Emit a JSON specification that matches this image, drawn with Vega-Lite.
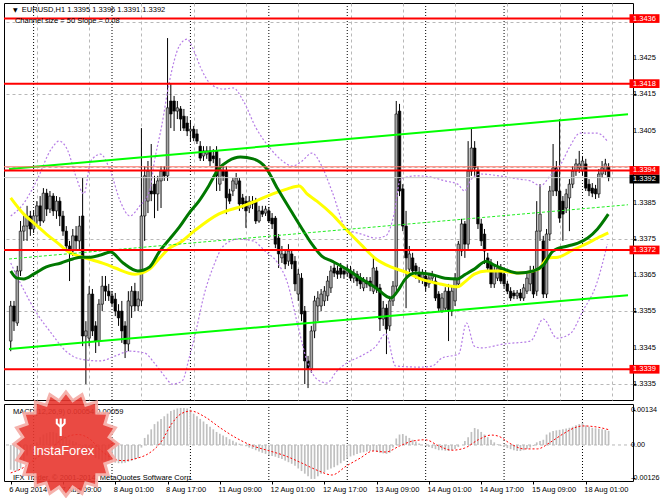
{
"$schema": "https://vega.github.io/schema/vega-lite/v6.json",
"background": "#ffffff",
"padding": {"left": 2, "top": 2, "right": 0, "bottom": 0},
"bounds": "flush",
"spacing": 4,
"config": {
  "view": {"stroke": "#000000", "strokeWidth": 1},
  "axis": {"labelFont": "Liberation Sans", "labelFontSize": 7.5, "labelColor": "#000000", "tickColor": "#000000", "gridColor": "#b8b8b8", "gridDash": [3, 3], "gridWidth": 1},
  "text": {"font": "Liberation Sans"}
},
"datasets": {
  "candles": [
{"i":0,"o":1.33468,"h":1.33579,"l":1.3344,"c":1.33565},
{"i":1,"o":1.33565,"h":1.33579,"l":1.33496,"c":1.33523},
{"i":2,"o":1.33518,"h":1.33676,"l":1.3351,"c":1.33662},
{"i":3,"o":1.33662,"h":1.338,"l":1.33648,"c":1.33772},
{"i":4,"o":1.33772,"h":1.33814,"l":1.33745,"c":1.33786},
{"i":5,"o":1.33786,"h":1.33842,"l":1.33745,"c":1.33814},
{"i":6,"o":1.33814,"h":1.33828,"l":1.33759,"c":1.33778},
{"i":7,"o":1.33778,"h":1.33828,"l":1.33767,"c":1.33814},
{"i":8,"o":1.33814,"h":1.33855,"l":1.33786,"c":1.33842},
{"i":9,"o":1.33842,"h":1.33869,"l":1.33786,"c":1.338},
{"i":10,"o":1.338,"h":1.33891,"l":1.33795,"c":1.33877},
{"i":11,"o":1.33877,"h":1.33889,"l":1.33814,"c":1.33833},
{"i":12,"o":1.33833,"h":1.33883,"l":1.33822,"c":1.33869},
{"i":13,"o":1.33869,"h":1.33877,"l":1.33814,"c":1.33828},
{"i":14,"o":1.33828,"h":1.33869,"l":1.33806,"c":1.33855},
{"i":15,"o":1.33855,"h":1.33866,"l":1.33786,"c":1.33814},
{"i":16,"o":1.33814,"h":1.33828,"l":1.33759,"c":1.33772},
{"i":17,"o":1.33772,"h":1.33786,"l":1.33717,"c":1.33731},
{"i":18,"o":1.33731,"h":1.33745,"l":1.33634,"c":1.33717},
{"i":19,"o":1.33717,"h":1.33778,"l":1.33703,"c":1.33759},
{"i":20,"o":1.33759,"h":1.33786,"l":1.33717,"c":1.33745},
{"i":21,"o":1.33745,"h":1.33814,"l":1.33717,"c":1.33786},
{"i":22,"o":1.33814,"h":1.33919,"l":1.33454,"c":1.33482},
{"i":23,"o":1.33482,"h":1.33523,"l":1.33349,"c":1.33496},
{"i":24,"o":1.33476,"h":1.3362,"l":1.33454,"c":1.33598},
{"i":25,"o":1.33598,"h":1.33612,"l":1.33482,"c":1.33496},
{"i":26,"o":1.3351,"h":1.33523,"l":1.33435,"c":1.33468},
{"i":27,"o":1.33468,"h":1.33584,"l":1.33454,"c":1.3357},
{"i":28,"o":1.3357,"h":1.33648,"l":1.33551,"c":1.3362},
{"i":29,"o":1.3362,"h":1.33648,"l":1.33579,"c":1.33606},
{"i":30,"o":1.33606,"h":1.33626,"l":1.33579,"c":1.33593},
{"i":31,"o":1.33593,"h":1.33606,"l":1.33565,"c":1.33573},
{"i":32,"o":1.33584,"h":1.33601,"l":1.33537,"c":1.33551},
{"i":33,"o":1.33551,"h":1.3357,"l":1.3351,"c":1.33532},
{"i":34,"o":1.33551,"h":1.33579,"l":1.33463,"c":1.33496},
{"i":35,"o":1.3351,"h":1.33523,"l":1.33421,"c":1.3346},
{"i":36,"o":1.3346,"h":1.33606,"l":1.3344,"c":1.33579},
{"i":37,"o":1.33565,"h":1.3362,"l":1.33532,"c":1.33606},
{"i":38,"o":1.33606,"h":1.33629,"l":1.33551,"c":1.33565},
{"i":39,"o":1.33565,"h":1.33606,"l":1.33551,"c":1.33584},
{"i":40,"o":1.33579,"h":1.34057,"l":1.33565,"c":1.33814},
{"i":41,"o":1.33814,"h":1.33952,"l":1.33745,"c":1.33925},
{"i":42,"o":1.33855,"h":1.33966,"l":1.33822,"c":1.33938},
{"i":43,"o":1.33883,"h":1.34013,"l":1.33855,"c":1.33875},
{"i":44,"o":1.33902,"h":1.33925,"l":1.33808,"c":1.33875},
{"i":45,"o":1.33875,"h":1.33925,"l":1.33828,"c":1.33911},
{"i":46,"o":1.33911,"h":1.33952,"l":1.33836,"c":1.33938},
{"i":47,"o":1.33938,"h":1.33952,"l":1.33911,"c":1.33925},
{"i":48,"o":1.33925,"h":1.34306,"l":1.33911,"c":1.34113},
{"i":49,"o":1.34132,"h":1.34179,"l":1.34057,"c":1.34096},
{"i":50,"o":1.34132,"h":1.34146,"l":1.34049,"c":1.34104},
{"i":51,"o":1.34104,"h":1.34132,"l":1.34082,"c":1.34113},
{"i":52,"o":1.3411,"h":1.34118,"l":1.34049,"c":1.34082},
{"i":53,"o":1.3409,"h":1.3411,"l":1.34049,"c":1.34057},
{"i":54,"o":1.34071,"h":1.3409,"l":1.34035,"c":1.34049},
{"i":55,"o":1.34049,"h":1.34077,"l":1.34021,"c":1.34054},
{"i":56,"o":1.34054,"h":1.34063,"l":1.34021,"c":1.3403},
{"i":57,"o":1.34041,"h":1.34054,"l":1.34013,"c":1.34021},
{"i":58,"o":1.34007,"h":1.34021,"l":1.33966,"c":1.33974},
{"i":59,"o":1.3398,"h":1.34007,"l":1.33966,"c":1.33994},
{"i":60,"o":1.33985,"h":1.34007,"l":1.33972,"c":1.33994},
{"i":61,"o":1.33994,"h":1.34007,"l":1.33952,"c":1.33966},
{"i":62,"o":1.3398,"h":1.33999,"l":1.3396,"c":1.33972},
{"i":63,"o":1.33994,"h":1.34007,"l":1.33883,"c":1.33925},
{"i":64,"o":1.33902,"h":1.33974,"l":1.33883,"c":1.33944},
{"i":65,"o":1.33938,"h":1.33952,"l":1.33911,"c":1.33925},
{"i":66,"o":1.33938,"h":1.33952,"l":1.33819,"c":1.33864},
{"i":67,"o":1.33875,"h":1.33889,"l":1.33847,"c":1.33855},
{"i":68,"o":1.33883,"h":1.33919,"l":1.33869,"c":1.33911},
{"i":69,"o":1.33902,"h":1.33933,"l":1.33889,"c":1.33919},
{"i":70,"o":1.33911,"h":1.33919,"l":1.33828,"c":1.33847},
{"i":71,"o":1.33864,"h":1.33875,"l":1.33833,"c":1.33847},
{"i":72,"o":1.33855,"h":1.33869,"l":1.33781,"c":1.33828},
{"i":73,"o":1.33836,"h":1.33869,"l":1.33822,"c":1.33855},
{"i":74,"o":1.33847,"h":1.33869,"l":1.33833,"c":1.33855},
{"i":75,"o":1.33855,"h":1.33864,"l":1.33792,"c":1.338},
{"i":76,"o":1.338,"h":1.33842,"l":1.33795,"c":1.33828},
{"i":77,"o":1.33828,"h":1.33842,"l":1.33811,"c":1.33819},
{"i":78,"o":1.33822,"h":1.33842,"l":1.33814,"c":1.33833},
{"i":79,"o":1.33828,"h":1.33839,"l":1.33795,"c":1.338},
{"i":80,"o":1.33808,"h":1.33822,"l":1.33778,"c":1.33792},
{"i":81,"o":1.33808,"h":1.33814,"l":1.33725,"c":1.33736},
{"i":82,"o":1.33753,"h":1.33764,"l":1.3367,"c":1.33709},
{"i":83,"o":1.33698,"h":1.33731,"l":1.33684,"c":1.33709},
{"i":84,"o":1.33709,"h":1.33717,"l":1.33667,"c":1.33681},
{"i":85,"o":1.33689,"h":1.33736,"l":1.33676,"c":1.33717},
{"i":86,"o":1.33709,"h":1.33717,"l":1.33667,"c":1.33681},
{"i":87,"o":1.33689,"h":1.33703,"l":1.33606,"c":1.33626},
{"i":88,"o":1.33598,"h":1.33667,"l":1.33579,"c":1.33653},
{"i":89,"o":1.33642,"h":1.33656,"l":1.33523,"c":1.33543},
{"i":90,"o":1.33551,"h":1.33565,"l":1.33349,"c":1.33413},
{"i":91,"o":1.33413,"h":1.33427,"l":1.33338,"c":1.33391},
{"i":92,"o":1.33391,"h":1.3351,"l":1.3338,"c":1.33496},
{"i":93,"o":1.33496,"h":1.33593,"l":1.33476,"c":1.33579},
{"i":94,"o":1.33565,"h":1.33606,"l":1.33523,"c":1.33587},
{"i":95,"o":1.33565,"h":1.33612,"l":1.33551,"c":1.33598},
{"i":96,"o":1.33579,"h":1.3362,"l":1.33565,"c":1.33606},
{"i":97,"o":1.33593,"h":1.33648,"l":1.33579,"c":1.33634},
{"i":98,"o":1.33615,"h":1.33676,"l":1.33601,"c":1.33662},
{"i":99,"o":1.3367,"h":1.33684,"l":1.33645,"c":1.33656},
{"i":100,"o":1.33662,"h":1.33676,"l":1.3364,"c":1.33653},
{"i":101,"o":1.3367,"h":1.33684,"l":1.33642,"c":1.33653},
{"i":102,"o":1.33662,"h":1.33673,"l":1.3364,"c":1.33653},
{"i":103,"o":1.33656,"h":1.33678,"l":1.33648,"c":1.33667},
{"i":104,"o":1.33662,"h":1.33676,"l":1.33634,"c":1.33642},
{"i":105,"o":1.33642,"h":1.33667,"l":1.33629,"c":1.33656},
{"i":106,"o":1.33653,"h":1.33662,"l":1.3362,"c":1.33634},
{"i":107,"o":1.33642,"h":1.33656,"l":1.33612,"c":1.33626},
{"i":108,"o":1.33615,"h":1.33645,"l":1.33606,"c":1.33634},
{"i":109,"o":1.33634,"h":1.33645,"l":1.33615,"c":1.33626},
{"i":110,"o":1.33634,"h":1.33645,"l":1.33606,"c":1.3362},
{"i":111,"o":1.33606,"h":1.33698,"l":1.33598,"c":1.3367},
{"i":112,"o":1.33662,"h":1.33673,"l":1.33601,"c":1.33612},
{"i":113,"o":1.33615,"h":1.33626,"l":1.33496,"c":1.33529},
{"i":114,"o":1.33529,"h":1.33579,"l":1.3351,"c":1.33559},
{"i":115,"o":1.33559,"h":1.3357,"l":1.33432,"c":1.33501},
{"i":116,"o":1.3351,"h":1.33593,"l":1.33496,"c":1.33579},
{"i":117,"o":1.33579,"h":1.33634,"l":1.33565,"c":1.3362},
{"i":118,"o":1.3362,"h":1.34132,"l":1.33606,"c":1.34096},
{"i":119,"o":1.34104,"h":1.34124,"l":1.33869,"c":1.33883},
{"i":120,"o":1.33889,"h":1.33902,"l":1.33772,"c":1.33786},
{"i":121,"o":1.33786,"h":1.33828,"l":1.33559,"c":1.33698},
{"i":122,"o":1.33667,"h":1.33731,"l":1.33656,"c":1.33709},
{"i":123,"o":1.33698,"h":1.33712,"l":1.33648,"c":1.33662},
{"i":124,"o":1.33676,"h":1.33684,"l":1.3364,"c":1.33662},
{"i":125,"o":1.33656,"h":1.33673,"l":1.33629,"c":1.33642},
{"i":126,"o":1.33642,"h":1.33667,"l":1.33626,"c":1.33656},
{"i":127,"o":1.33648,"h":1.33662,"l":1.33606,"c":1.3362},
{"i":128,"o":1.33626,"h":1.33656,"l":1.33615,"c":1.33642},
{"i":129,"o":1.33642,"h":1.33662,"l":1.33634,"c":1.33651},
{"i":130,"o":1.33634,"h":1.33645,"l":1.33579,"c":1.33587},
{"i":131,"o":1.33598,"h":1.33606,"l":1.33551,"c":1.33559},
{"i":132,"o":1.33551,"h":1.33601,"l":1.33546,"c":1.33587},
{"i":133,"o":1.33559,"h":1.33617,"l":1.33551,"c":1.33606},
{"i":134,"o":1.33606,"h":1.33626,"l":1.33468,"c":1.33551},
{"i":135,"o":1.33551,"h":1.3362,"l":1.33537,"c":1.33606},
{"i":136,"o":1.33579,"h":1.33656,"l":1.33565,"c":1.33642},
{"i":137,"o":1.33626,"h":1.33745,"l":1.33615,"c":1.33736},
{"i":138,"o":1.33717,"h":1.33806,"l":1.33703,"c":1.33792},
{"i":139,"o":1.33792,"h":1.338,"l":1.33698,"c":1.33736},
{"i":140,"o":1.33736,"h":1.34021,"l":1.33723,"c":1.33938},
{"i":141,"o":1.33938,"h":1.34057,"l":1.33925,"c":1.34002},
{"i":142,"o":1.34002,"h":1.34021,"l":1.33925,"c":1.33947},
{"i":143,"o":1.33938,"h":1.33952,"l":1.33778,"c":1.33792},
{"i":144,"o":1.33792,"h":1.33806,"l":1.33731,"c":1.33745},
{"i":145,"o":1.33764,"h":1.33778,"l":1.33681,"c":1.33717},
{"i":146,"o":1.33698,"h":1.33712,"l":1.33662,"c":1.3367},
{"i":147,"o":1.33681,"h":1.33695,"l":1.33615,"c":1.33626},
{"i":148,"o":1.33626,"h":1.33676,"l":1.33615,"c":1.33662},
{"i":149,"o":1.33642,"h":1.33689,"l":1.33634,"c":1.3367},
{"i":150,"o":1.3367,"h":1.33681,"l":1.33626,"c":1.33634},
{"i":151,"o":1.33653,"h":1.33662,"l":1.33615,"c":1.33626},
{"i":152,"o":1.33626,"h":1.33634,"l":1.33598,"c":1.33606},
{"i":153,"o":1.33606,"h":1.33617,"l":1.33579,"c":1.33587},
{"i":154,"o":1.33601,"h":1.33609,"l":1.33584,"c":1.33593},
{"i":155,"o":1.33593,"h":1.33609,"l":1.33584,"c":1.33601},
{"i":156,"o":1.33601,"h":1.33612,"l":1.33579,"c":1.33587},
{"i":157,"o":1.33587,"h":1.33626,"l":1.33579,"c":1.33615},
{"i":158,"o":1.33606,"h":1.33656,"l":1.33598,"c":1.33642},
{"i":159,"o":1.33626,"h":1.33676,"l":1.33606,"c":1.33662},
{"i":160,"o":1.33662,"h":1.33676,"l":1.33587,"c":1.33598},
{"i":161,"o":1.33606,"h":1.33855,"l":1.33593,"c":1.33772},
{"i":162,"o":1.33772,"h":1.33902,"l":1.33745,"c":1.33819},
{"i":163,"o":1.33745,"h":1.33759,"l":1.33587,"c":1.33598},
{"i":164,"o":1.33598,"h":1.33778,"l":1.33587,"c":1.33764},
{"i":165,"o":1.33764,"h":1.33897,"l":1.33745,"c":1.33883},
{"i":166,"o":1.33883,"h":1.34013,"l":1.33869,"c":1.33947},
{"i":167,"o":1.33947,"h":1.33966,"l":1.33869,"c":1.33883},
{"i":168,"o":1.33883,"h":1.34082,"l":1.33795,"c":1.33808},
{"i":169,"o":1.33855,"h":1.33869,"l":1.33745,"c":1.33819},
{"i":170,"o":1.33836,"h":1.33889,"l":1.33822,"c":1.33875},
{"i":171,"o":1.33864,"h":1.33916,"l":1.33772,"c":1.33902},
{"i":172,"o":1.33902,"h":1.33952,"l":1.33891,"c":1.33938},
{"i":173,"o":1.33938,"h":1.33972,"l":1.33925,"c":1.33958},
{"i":174,"o":1.33947,"h":1.33994,"l":1.33933,"c":1.33958},
{"i":175,"o":1.33938,"h":1.3398,"l":1.33925,"c":1.33966},
{"i":176,"o":1.33958,"h":1.33972,"l":1.33883,"c":1.33891},
{"i":177,"o":1.33902,"h":1.33916,"l":1.33869,"c":1.33883},
{"i":178,"o":1.33891,"h":1.33905,"l":1.33866,"c":1.33877},
{"i":179,"o":1.33889,"h":1.339,"l":1.33861,"c":1.33875},
{"i":180,"o":1.33875,"h":1.33944,"l":1.33864,"c":1.3393},
{"i":181,"o":1.3393,"h":1.33966,"l":1.33919,"c":1.33947},
{"i":182,"o":1.33938,"h":1.33972,"l":1.33927,"c":1.33958},
{"i":183,"o":1.3395,"h":1.3396,"l":1.3391,"c":1.3392}
  ],
  "ind": [
{"s":"maG","i":0,"v":1.33662},{"s":"maG","i":1.88,"v":1.33642},{"s":"maG","i":3.99,"v":1.3364},{"s":"maG","i":7.0,"v":1.33653},{"s":"maG","i":10.9,"v":1.33673},{"s":"maG","i":15.4,"v":1.33684},{"s":"maG","i":19.0,"v":1.33695},{"s":"maG","i":21.5,"v":1.337},{"s":"maG","i":24.5,"v":1.337},{"s":"maG","i":27.5,"v":1.33706},{"s":"maG","i":30.5,"v":1.33714},{"s":"maG","i":34.4,"v":1.33684},{"s":"maG","i":38.9,"v":1.33662},{"s":"maG","i":42.5,"v":1.33673},{"s":"maG","i":45.6,"v":1.33717},{"s":"maG","i":48.6,"v":1.3375},{"s":"maG","i":51.6,"v":1.33783},{"s":"maG","i":54.6,"v":1.33822},{"s":"maG","i":57.6,"v":1.33855},{"s":"maG","i":60.6,"v":1.33897},{"s":"maG","i":63.6,"v":1.33944},{"s":"maG","i":66.6,"v":1.33966},{"s":"maG","i":70.3,"v":1.33977},{"s":"maG","i":74.2,"v":1.33972},{"s":"maG","i":78.1,"v":1.33947},{"s":"maG","i":81.7,"v":1.33889},{"s":"maG","i":86.2,"v":1.33822},{"s":"maG","i":89.2,"v":1.33778},{"s":"maG","i":92.2,"v":1.33736},{"s":"maG","i":95.2,"v":1.33703},{"s":"maG","i":98.3,"v":1.33689},{"s":"maG","i":102.8,"v":1.33667},{"s":"maG","i":107.3,"v":1.3364},{"s":"maG","i":111.8,"v":1.33615},{"s":"maG","i":116.3,"v":1.33587},{"s":"maG","i":118.4,"v":1.33606},{"s":"maG","i":120.8,"v":1.3364},{"s":"maG","i":123.9,"v":1.33656},{"s":"maG","i":128.4,"v":1.33653},{"s":"maG","i":132.9,"v":1.33642},{"s":"maG","i":136.8,"v":1.3364},{"s":"maG","i":138.9,"v":1.33651},{"s":"maG","i":141.9,"v":1.33667},{"s":"maG","i":145.6,"v":1.33689},{"s":"maG","i":148.0,"v":1.33678},{"s":"maG","i":151.0,"v":1.33667},{"s":"maG","i":155.5,"v":1.33656},{"s":"maG","i":160.0,"v":1.33662},{"s":"maG","i":163.0,"v":1.33678},{"s":"maG","i":166.0,"v":1.33717},{"s":"maG","i":170.5,"v":1.33731},{"s":"maG","i":173.6,"v":1.33739},{"s":"maG","i":176.6,"v":1.33753},{"s":"maG","i":179.6,"v":1.33778},{"s":"maG","i":182.9,"v":1.33819},
{"s":"maY","i":0,"v":1.33864},{"s":"maY","i":3.99,"v":1.33819},{"s":"maY","i":7.0,"v":1.33795},{"s":"maY","i":10.9,"v":1.33764},{"s":"maY","i":14.8,"v":1.33736},{"s":"maY","i":17.8,"v":1.33714},{"s":"maY","i":20.9,"v":1.33703},{"s":"maY","i":23.9,"v":1.33695},{"s":"maY","i":29.0,"v":1.33681},{"s":"maY","i":32.0,"v":1.3367},{"s":"maY","i":38.0,"v":1.33653},{"s":"maY","i":42.5,"v":1.33667},{"s":"maY","i":45.6,"v":1.33698},{"s":"maY","i":48.6,"v":1.33725},{"s":"maY","i":51.6,"v":1.33739},{"s":"maY","i":56.1,"v":1.33772},{"s":"maY","i":63.6,"v":1.33819},{"s":"maY","i":71.2,"v":1.33842},{"s":"maY","i":75.7,"v":1.33858},{"s":"maY","i":80.2,"v":1.33875},{"s":"maY","i":84.7,"v":1.33889},{"s":"maY","i":88.3,"v":1.33897},{"s":"maY","i":90.7,"v":1.33875},{"s":"maY","i":93.7,"v":1.33855},{"s":"maY","i":98.3,"v":1.33819},{"s":"maY","i":102.8,"v":1.33775},{"s":"maY","i":107.3,"v":1.33734},{"s":"maY","i":111.8,"v":1.33695},{"s":"maY","i":116.3,"v":1.33673},{"s":"maY","i":120.8,"v":1.33659},{"s":"maY","i":125.4,"v":1.3364},{"s":"maY","i":131.4,"v":1.33626},{"s":"maY","i":136.8,"v":1.33618},{"s":"maY","i":138.9,"v":1.33631},{"s":"maY","i":141.9,"v":1.33653},{"s":"maY","i":145.6,"v":1.33662},{"s":"maY","i":149.5,"v":1.33662},{"s":"maY","i":155.5,"v":1.33656},{"s":"maY","i":161.5,"v":1.33667},{"s":"maY","i":164.5,"v":1.33698},{"s":"maY","i":167.5,"v":1.337},{"s":"maY","i":172.1,"v":1.3372},{"s":"maY","i":176.6,"v":1.33739},{"s":"maY","i":179.6,"v":1.33753},{"s":"maY","i":182.9,"v":1.33767},
{"s":"bbu","i":0,"v":1.33814},{"s":"bbu","i":3.4,"v":1.33842},{"s":"bbu","i":7.9,"v":1.33911},{"s":"bbu","i":12.4,"v":1.33999},{"s":"bbu","i":14.8,"v":1.34021},{"s":"bbu","i":17.5,"v":1.33994},{"s":"bbu","i":19.9,"v":1.33925},{"s":"bbu","i":22.4,"v":1.33875},{"s":"bbu","i":24.5,"v":1.33966},{"s":"bbu","i":27.5,"v":1.33985},{"s":"bbu","i":30.5,"v":1.33938},{"s":"bbu","i":33.5,"v":1.33855},{"s":"bbu","i":36.5,"v":1.33814},{"s":"bbu","i":39.5,"v":1.33842},{"s":"bbu","i":42.5,"v":1.33883},{"s":"bbu","i":44.0,"v":1.33966},{"s":"bbu","i":46.2,"v":1.34063},{"s":"bbu","i":48.6,"v":1.34187},{"s":"bbu","i":51.6,"v":1.34284},{"s":"bbu","i":54.0,"v":1.34303},{"s":"bbu","i":56.1,"v":1.3427},{"s":"bbu","i":58.2,"v":1.34223},{"s":"bbu","i":61.2,"v":1.34179},{"s":"bbu","i":65.1,"v":1.34165},{"s":"bbu","i":68.1,"v":1.34168},{"s":"bbu","i":71.2,"v":1.34132},{"s":"bbu","i":75.1,"v":1.34057},{"s":"bbu","i":79.3,"v":1.34002},{"s":"bbu","i":83.2,"v":1.33966},{"s":"bbu","i":86.2,"v":1.33952},{"s":"bbu","i":89.2,"v":1.33966},{"s":"bbu","i":92.2,"v":1.33988},{"s":"bbu","i":95.2,"v":1.33952},{"s":"bbu","i":98.3,"v":1.33883},{"s":"bbu","i":102.8,"v":1.33778},{"s":"bbu","i":107.3,"v":1.33764},{"s":"bbu","i":111.8,"v":1.33753},{"s":"bbu","i":114.8,"v":1.33759},{"s":"bbu","i":117.2,"v":1.33814},{"s":"bbu","i":119.3,"v":1.33916},{"s":"bbu","i":123.9,"v":1.33925},{"s":"bbu","i":128.4,"v":1.33922},{"s":"bbu","i":132.9,"v":1.33911},{"s":"bbu","i":136.8,"v":1.33902},{"s":"bbu","i":138.9,"v":1.33883},{"s":"bbu","i":141.0,"v":1.33916},{"s":"bbu","i":144.0,"v":1.3393},{"s":"bbu","i":149.5,"v":1.33925},{"s":"bbu","i":155.5,"v":1.33916},{"s":"bbu","i":159.1,"v":1.33911},{"s":"bbu","i":162.1,"v":1.33897},{"s":"bbu","i":165.1,"v":1.33925},{"s":"bbu","i":168.4,"v":1.33958},{"s":"bbu","i":171.2,"v":1.34007},{"s":"bbu","i":174.2,"v":1.34043},{"s":"bbu","i":179.6,"v":1.34043},{"s":"bbu","i":182.6,"v":1.34021},
{"s":"bbl","i":0,"v":1.33684},{"s":"bbl","i":3.4,"v":1.3362},{"s":"bbl","i":7.9,"v":1.33546},{"s":"bbl","i":12.4,"v":1.3349},{"s":"bbl","i":16.9,"v":1.3344},{"s":"bbl","i":21.5,"v":1.33418},{"s":"bbl","i":27.5,"v":1.33413},{"s":"bbl","i":32.0,"v":1.33427},{"s":"bbl","i":36.5,"v":1.3344},{"s":"bbl","i":41.0,"v":1.33435},{"s":"bbl","i":44.0,"v":1.33407},{"s":"bbl","i":47.1,"v":1.33371},{"s":"bbl","i":49.5,"v":1.33349},{"s":"bbl","i":52.5,"v":1.33358},{"s":"bbl","i":54.6,"v":1.33421},{"s":"bbl","i":56.7,"v":1.33496},{"s":"bbl","i":59.1,"v":1.33593},{"s":"bbl","i":62.1,"v":1.33676},{"s":"bbl","i":65.1,"v":1.33731},{"s":"bbl","i":69.6,"v":1.3375},{"s":"bbl","i":74.2,"v":1.33745},{"s":"bbl","i":77.8,"v":1.33717},{"s":"bbl","i":81.7,"v":1.33684},{"s":"bbl","i":84.7,"v":1.33629},{"s":"bbl","i":87.7,"v":1.33518},{"s":"bbl","i":90.7,"v":1.33413},{"s":"bbl","i":93.7,"v":1.33363},{"s":"bbl","i":96.8,"v":1.33352},{"s":"bbl","i":99.8,"v":1.33385},{"s":"bbl","i":102.8,"v":1.33407},{"s":"bbl","i":107.3,"v":1.33427},{"s":"bbl","i":111.8,"v":1.33454},{"s":"bbl","i":114.8,"v":1.33488},{"s":"bbl","i":117.8,"v":1.33399},{"s":"bbl","i":125.4,"v":1.33396},{"s":"bbl","i":129.0,"v":1.33399},{"s":"bbl","i":132.0,"v":1.33421},{"s":"bbl","i":137.1,"v":1.33432},{"s":"bbl","i":139.5,"v":1.33518},{"s":"bbl","i":141.9,"v":1.33454},{"s":"bbl","i":144.0,"v":1.33449},{"s":"bbl","i":151.0,"v":1.3346},{"s":"bbl","i":159.1,"v":1.33468},{"s":"bbl","i":163.0,"v":1.33529},{"s":"bbl","i":167.2,"v":1.33476},{"s":"bbl","i":171.2,"v":1.33488},{"s":"bbl","i":175.1,"v":1.33551},{"s":"bbl","i":179.3,"v":1.33626},{"s":"bbl","i":182.6,"v":1.33736}
  ],
  "chan": [
{"s":"up","i":-0.53,"v":1.33944},{"s":"up","i":188.93,"v":1.34095},
{"s":"lo","i":-0.53,"v":1.33446},{"s":"lo","i":188.93,"v":1.33595},
{"s":"mid","i":-0.53,"v":1.33695},{"s":"mid","i":188.93,"v":1.33845}
  ],
  "lev": [{"p":1.3436},{"p":1.3418},{"p":1.3394},{"p":1.3372},{"p":1.3339}],
  "quote": [{"bid":1.3392,"ask":1.3395}],
  "ylab": [{"v":1.3335},{"v":1.3345},{"v":1.3355},{"v":1.3365},{"v":1.3375},{"v":1.3385},{"v":1.3405},{"v":1.3415},{"v":1.3425}],
  "mlab": [{"v":0.00134,"t":"0.00134"},{"v":0,"t":"0.00"},{"v":-0.00126,"t":"-0.00126"}],
  "sep": [{"i":7},{"i":31},{"i":55},{"i":79},{"i":103},{"i":127},{"i":151},{"i":175}],
  "macd": [
{"i":0,"m":-0.00095},{"i":1,"m":-0.00098},{"i":2,"m":-0.001},{"i":3,"m":-0.0009},{"i":4,"m":-0.0006},{"i":5,"m":-0.0004},{"i":6,"m":-0.0002},{"i":7,"m":0.0},{"i":8,"m":0.0001},{"i":9,"m":0.0003},
{"i":10,"m":0.0004},{"i":11,"m":0.00045},{"i":12,"m":0.0005},{"i":13,"m":0.0005},{"i":14,"m":0.00045},{"i":15,"m":0.0004},{"i":16,"m":0.00035},{"i":17,"m":0.0003},{"i":18,"m":0.0002},{"i":19,"m":0.00015},
{"i":20,"m":0.0001},{"i":21,"m":0.0},{"i":22,"m":-0.0001},{"i":23,"m":-0.0002},{"i":24,"m":-0.0003},{"i":25,"m":-0.0004},{"i":26,"m":-0.0005},{"i":27,"m":-0.00055},{"i":28,"m":-0.0006},{"i":29,"m":-0.0006},
{"i":30,"m":-0.00062},{"i":31,"m":-0.00065},{"i":32,"m":-0.00068},{"i":33,"m":-0.0007},{"i":34,"m":-0.0007},{"i":35,"m":-0.00068},{"i":36,"m":-0.00064},{"i":37,"m":-0.0006},{"i":38,"m":-0.00055},{"i":39,"m":-0.0005},
{"i":40,"m":-0.0001},{"i":41,"m":0.00027},{"i":42,"m":0.0004},{"i":43,"m":0.0006},{"i":44,"m":0.0008},{"i":45,"m":0.0009},{"i":46,"m":0.001},{"i":47,"m":0.0011},{"i":48,"m":0.0012},{"i":49,"m":0.0013},
{"i":50,"m":0.00135},{"i":51,"m":0.0014},{"i":52,"m":0.00142},{"i":53,"m":0.00142},{"i":54,"m":0.0014},{"i":55,"m":0.00135},{"i":56,"m":0.0012},{"i":57,"m":0.0011},{"i":58,"m":0.001},{"i":59,"m":0.0009},
{"i":60,"m":0.0008},{"i":61,"m":0.0007},{"i":62,"m":0.0006},{"i":63,"m":0.0005},{"i":64,"m":0.00043},{"i":65,"m":0.00036},{"i":66,"m":0.0003},{"i":67,"m":0.00022},{"i":68,"m":0.00016},{"i":69,"m":0.0001},
{"i":70,"m":0.00005},{"i":71,"m":0.0},{"i":72,"m":-0.00005},{"i":73,"m":-0.0001},{"i":74,"m":-0.00015},{"i":75,"m":-0.0002},{"i":76,"m":-0.00025},{"i":77,"m":-0.0003},{"i":78,"m":-0.00034},{"i":79,"m":-0.00038},
{"i":80,"m":-0.00042},{"i":81,"m":-0.00045},{"i":82,"m":-0.0005},{"i":83,"m":-0.00054},{"i":84,"m":-0.0006},{"i":85,"m":-0.00066},{"i":86,"m":-0.00072},{"i":87,"m":-0.0008},{"i":88,"m":-0.0009},{"i":89,"m":-0.001},
{"i":90,"m":-0.0011},{"i":91,"m":-0.0012},{"i":92,"m":-0.0013},{"i":93,"m":-0.0013},{"i":94,"m":-0.0012},{"i":95,"m":-0.0011},{"i":96,"m":-0.00105},{"i":97,"m":-0.00095},{"i":98,"m":-0.0009},{"i":99,"m":-0.00085},
{"i":100,"m":-0.00078},{"i":101,"m":-0.0007},{"i":102,"m":-0.0006},{"i":103,"m":-0.00052},{"i":104,"m":-0.00044},{"i":105,"m":-0.0004},{"i":106,"m":-0.00035},{"i":107,"m":-0.0003},{"i":108,"m":-0.00028},{"i":109,"m":-0.00025},
{"i":110,"m":-0.00023},{"i":111,"m":-0.00023},{"i":112,"m":-0.00026},{"i":113,"m":-0.0003},{"i":114,"m":-0.00032},{"i":115,"m":-0.00034},{"i":116,"m":-0.0003},{"i":117,"m":-0.0001},{"i":118,"m":0.00025},{"i":119,"m":0.0004},
{"i":120,"m":0.00042},{"i":121,"m":0.00035},{"i":122,"m":0.00027},{"i":123,"m":0.0002},{"i":124,"m":0.00013},{"i":125,"m":0.00006},{"i":126,"m":0.0},{"i":127,"m":-0.00004},{"i":128,"m":-0.00008},{"i":129,"m":-0.00012},
{"i":130,"m":-0.00016},{"i":131,"m":-0.0002},{"i":132,"m":-0.0002},{"i":133,"m":-0.00022},{"i":134,"m":-0.00023},{"i":135,"m":-0.0002},{"i":136,"m":-0.00015},{"i":137,"m":-0.00008},{"i":138,"m":0.0},{"i":139,"m":0.00015},
{"i":140,"m":0.0003},{"i":141,"m":0.0005},{"i":142,"m":0.00065},{"i":143,"m":0.0006},{"i":144,"m":0.0005},{"i":145,"m":0.0004},{"i":146,"m":0.0003},{"i":147,"m":0.0002},{"i":148,"m":0.0001},{"i":149,"m":0.00003},
{"i":150,"m":-0.00003},{"i":151,"m":-0.00008},{"i":152,"m":-0.00012},{"i":153,"m":-0.00016},{"i":154,"m":-0.0002},{"i":155,"m":-0.00023},{"i":156,"m":-0.00023},{"i":157,"m":-0.0002},{"i":158,"m":-0.00015},{"i":159,"m":-0.0001},
{"i":160,"m":-0.00004},{"i":161,"m":0.0001},{"i":162,"m":0.00015},{"i":163,"m":0.0002},{"i":164,"m":0.0004},{"i":165,"m":0.00048},{"i":166,"m":0.00054},{"i":167,"m":0.00056},{"i":168,"m":0.00058},{"i":169,"m":0.0006},
{"i":170,"m":0.00063},{"i":171,"m":0.00066},{"i":172,"m":0.0007},{"i":173,"m":0.00076},{"i":174,"m":0.0008},{"i":175,"m":0.00085},{"i":176,"m":0.00075},{"i":177,"m":0.0007},{"i":178,"m":0.00066},{"i":179,"m":0.00064},
{"i":180,"m":0.00062},{"i":181,"m":0.0006},{"i":182,"m":0.00058},{"i":183,"m":0.00054}
  ],
  "sig": [
{"i":0,"s":-0.00107},{"i":3.4,"s":-0.0009},{"i":7.9,"s":-0.0005},{"i":12.4,"s":-0.0001},{"i":16.9,"s":0.0003},{"i":20.6,"s":0.0004},{"i":24.5,"s":0.0002},{"i":27.5,"s":-0.0002},{"i":31.1,"s":-0.0005},{"i":34.1,"s":-0.0006},{"i":38.9,"s":-0.0005},{"i":41.9,"s":-0.00035},{"i":46.2,"s":0.00015},{"i":49.2,"s":0.0008},{"i":52.2,"s":0.0012},{"i":55.2,"s":0.0013},{"i":59.1,"s":0.0011},{"i":64.2,"s":0.00065},{"i":69.0,"s":0.00027},{"i":74.2,"s":-0.00004},{"i":79.3,"s":-0.00023},{"i":84.1,"s":-0.00042},{"i":89.2,"s":-0.0007},{"i":94.4,"s":-0.001},{"i":98.3,"s":-0.00115},{"i":102.8,"s":-0.0008},{"i":107.0,"s":-0.0005},{"i":110.9,"s":-0.00023},{"i":114.8,"s":-0.00027},{"i":119.0,"s":-0.00004},{"i":123.0,"s":0.00015},{"i":126.9,"s":0.0002},{"i":131.1,"s":-0.00004},{"i":135.0,"s":-0.0002},{"i":138.9,"s":-0.00012},{"i":143.1,"s":0.0002},{"i":147.1,"s":0.00038},{"i":149.2,"s":0.00034},{"i":153.1,"s":0.00004},{"i":157.0,"s":-0.00015},{"i":161.2,"s":-0.00015},{"i":165.1,"s":0.0001},{"i":169.0,"s":0.00042},{"i":173.3,"s":0.00069},{"i":175.1,"s":0.00073},{"i":179.3,"s":0.00069},{"i":182.9,"s":0.00059}
  ]
},
"vconcat": [
  {
    "width": 629,
    "height": 397,
    "layer": [
      {
        "data": {"name": "sep"},
        "mark": {"type": "rule", "color": "#000000", "strokeWidth": 1, "strokeDash": [1, 2]},
        "encoding": {
          "x": {"field": "i", "type": "quantitative", "scale": {"domain": [-0.53, 188.93], "nice": false, "zero": false},
                "axis": {"values": [8, 24, 40, 56, 72, 88, 104, 120, 136, 152, 168, 184], "grid": true, "labels": false, "ticks": false, "domain": false, "title": null}}
        }
      },
      {
        "data": {"name": "candles"},
        "mark": {"type": "rule", "color": "#000000", "strokeWidth": 1},
        "encoding": {
          "x": {"field": "i", "type": "quantitative", "scale": {"domain": [-0.53, 188.93], "nice": false, "zero": false}},
          "y": {"field": "l", "type": "quantitative", "scale": {"domain": [1.33305, 1.34403], "nice": false, "zero": false},
                "axis": {"orient": "right", "values": [1.3335, 1.3345, 1.3355, 1.3365, 1.3375, 1.3385, 1.3395, 1.3405, 1.3415, 1.3425, 1.3435],
                         "labels": false, "grid": true, "tickSize": 3, "title": null, "domain": false}},
          "y2": {"field": "h"}
        }
      },
      {
        "data": {"name": "candles"},
        "mark": {"type": "bar", "orient": "vertical", "size": 2.6, "stroke": "#000000", "strokeWidth": 0.6},
        "encoding": {
          "x": {"field": "i", "type": "quantitative", "scale": {"domain": [-0.53, 188.93], "nice": false, "zero": false}},
          "y": {"field": "o", "type": "quantitative", "scale": {"domain": [1.33305, 1.34403], "nice": false, "zero": false}},
          "y2": {"field": "c"},
          "fill": {"condition": {"test": "datum.c >= datum.o", "value": "#a4a4a4"}, "value": "#000000"}
        }
      },
      {
        "data": {"name": "ind"},
        "transform": [{"filter": "datum.s == 'bbu' || datum.s == 'bbl'"}],
        "mark": {"type": "line", "color": "#b67de6", "strokeWidth": 1.2, "strokeDash": [2, 2], "interpolate": "monotone"},
        "encoding": {
          "x": {"field": "i", "type": "quantitative", "scale": {"domain": [-0.53, 188.93], "nice": false, "zero": false}},
          "y": {"field": "v", "type": "quantitative", "scale": {"domain": [1.33305, 1.34403], "nice": false, "zero": false}},
          "detail": {"field": "s"}
        }
      },
      {
        "data": {"name": "ind"},
        "transform": [{"filter": "datum.s == 'maY'"}],
        "mark": {"type": "line", "color": "#ffff00", "strokeWidth": 3, "interpolate": "monotone"},
        "encoding": {
          "x": {"field": "i", "type": "quantitative", "scale": {"domain": [-0.53, 188.93], "nice": false, "zero": false}},
          "y": {"field": "v", "type": "quantitative", "scale": {"domain": [1.33305, 1.34403], "nice": false, "zero": false}}
        }
      },
      {
        "data": {"name": "ind"},
        "transform": [{"filter": "datum.s == 'maG'"}],
        "mark": {"type": "line", "color": "#007800", "strokeWidth": 3, "interpolate": "monotone"},
        "encoding": {
          "x": {"field": "i", "type": "quantitative", "scale": {"domain": [-0.53, 188.93], "nice": false, "zero": false}},
          "y": {"field": "v", "type": "quantitative", "scale": {"domain": [1.33305, 1.34403], "nice": false, "zero": false}}
        }
      },
      {
        "data": {"name": "chan"},
        "transform": [{"filter": "datum.s != 'mid'"}],
        "mark": {"type": "line", "color": "#00ff00", "strokeWidth": 2},
        "encoding": {
          "x": {"field": "i", "type": "quantitative", "scale": {"domain": [-0.53, 188.93], "nice": false, "zero": false}},
          "y": {"field": "v", "type": "quantitative", "scale": {"domain": [1.33305, 1.34403], "nice": false, "zero": false}},
          "detail": {"field": "s"}
        }
      },
      {
        "data": {"name": "chan"},
        "transform": [{"filter": "datum.s == 'mid'"}],
        "mark": {"type": "line", "color": "#22ee22", "strokeWidth": 1, "strokeDash": [3, 2]},
        "encoding": {
          "x": {"field": "i", "type": "quantitative", "scale": {"domain": [-0.53, 188.93], "nice": false, "zero": false}},
          "y": {"field": "v", "type": "quantitative", "scale": {"domain": [1.33305, 1.34403], "nice": false, "zero": false}}
        }
      },
      {
        "data": {"name": "quote"},
        "mark": {"type": "rule", "color": "#c8c8c8", "strokeWidth": 1},
        "encoding": {
          "y": {"field": "bid", "type": "quantitative", "scale": {"domain": [1.33305, 1.34403], "nice": false, "zero": false}}
        }
      },
      {
        "data": {"name": "quote"},
        "mark": {"type": "rule", "color": "#ff7060", "strokeWidth": 1},
        "encoding": {
          "y": {"field": "ask", "type": "quantitative", "scale": {"domain": [1.33305, 1.34403], "nice": false, "zero": false}}
        }
      },
      {
        "data": {"name": "lev"},
        "mark": {"type": "rule", "color": "#ff0000", "strokeWidth": 2},
        "encoding": {
          "y": {"field": "p", "type": "quantitative", "scale": {"domain": [1.33305, 1.34403], "nice": false, "zero": false}}
        }
      },
      {
        "data": {"values": [{"t": "▼"}]},
        "mark": {"type": "text", "font": "DejaVu Sans", "fontSize": 6, "align": "center", "baseline": "middle", "color": "#000000"},
        "encoding": {
          "x": {"datum": 1.43, "type": "quantitative", "scale": {"domain": [-0.53, 188.93], "nice": false, "zero": false}},
          "y": {"datum": 1.34384, "type": "quantitative", "scale": {"domain": [1.33305, 1.34403], "nice": false, "zero": false}},
          "text": {"field": "t"}
        }
      },
      {
        "data": {"values": [{"t": "EURUSD,H1  1.3395 1.3396 1.3391 1.3392"}]},
        "mark": {"type": "text", "fontSize": 7.5, "align": "left", "baseline": "middle", "color": "#000000"},
        "encoding": {
          "x": {"datum": 3.4, "type": "quantitative", "scale": {"domain": [-0.53, 188.93], "nice": false, "zero": false}},
          "y": {"datum": 1.34384, "type": "quantitative", "scale": {"domain": [1.33305, 1.34403], "nice": false, "zero": false}},
          "text": {"field": "t"}
        }
      },
      {
        "data": {"values": [{"t": "Channel size = 50 Slope = 0.08"}]},
        "mark": {"type": "text", "fontSize": 7.5, "align": "left", "baseline": "middle", "color": "#000000"},
        "encoding": {
          "x": {"datum": 1.28, "type": "quantitative", "scale": {"domain": [-0.53, 188.93], "nice": false, "zero": false}},
          "y": {"datum": 1.34353, "type": "quantitative", "scale": {"domain": [1.33305, 1.34403], "nice": false, "zero": false}},
          "text": {"field": "t"}
        }
      },
      {
        "data": {"name": "ylab"},
        "mark": {"type": "text", "fontSize": 7.5, "align": "left", "baseline": "middle", "color": "#000000", "dx": 5},
        "encoding": {
          "x": {"datum": 188.93, "type": "quantitative", "scale": {"domain": [-0.53, 188.93], "nice": false, "zero": false}},
          "y": {"field": "v", "type": "quantitative", "scale": {"domain": [1.33305, 1.34403], "nice": false, "zero": false}},
          "text": {"field": "v", "type": "quantitative", "format": ".4f"}
        }
      },
      {
        "data": {"name": "lev"},
        "mark": {"type": "point", "shape": "M-1,-0.29L1,-0.29L1,0.29L-1,0.29Z", "size": 900, "filled": true, "fill": "#ff0000", "opacity": 1, "xOffset": 16.5},
        "encoding": {
          "x": {"datum": 188.93, "type": "quantitative", "scale": {"domain": [-0.53, 188.93], "nice": false, "zero": false}},
          "y": {"field": "p", "type": "quantitative", "scale": {"domain": [1.33305, 1.34403], "nice": false, "zero": false}}
        }
      },
      {
        "data": {"name": "quote"},
        "mark": {"type": "point", "shape": "M-1,-0.29L1,-0.29L1,0.29L-1,0.29Z", "size": 900, "filled": true, "fill": "#000000", "opacity": 1, "xOffset": 16.5, "yOffset": 1.5},
        "encoding": {
          "x": {"datum": 188.93, "type": "quantitative", "scale": {"domain": [-0.53, 188.93], "nice": false, "zero": false}},
          "y": {"field": "bid", "type": "quantitative", "scale": {"domain": [1.33305, 1.34403], "nice": false, "zero": false}}
        }
      },
      {
        "data": {"name": "lev"},
        "mark": {"type": "text", "fontSize": 7.5, "align": "left", "baseline": "middle", "color": "#ffffff", "dx": 5},
        "encoding": {
          "x": {"datum": 188.93, "type": "quantitative", "scale": {"domain": [-0.53, 188.93], "nice": false, "zero": false}},
          "y": {"field": "p", "type": "quantitative", "scale": {"domain": [1.33305, 1.34403], "nice": false, "zero": false}},
          "text": {"field": "p", "type": "quantitative", "format": ".4f"}
        }
      },
      {
        "data": {"name": "quote"},
        "mark": {"type": "text", "fontSize": 7.5, "align": "left", "baseline": "middle", "color": "#ffffff", "dx": 5, "dy": 1.5},
        "encoding": {
          "x": {"datum": 188.93, "type": "quantitative", "scale": {"domain": [-0.53, 188.93], "nice": false, "zero": false}},
          "y": {"field": "bid", "type": "quantitative", "scale": {"domain": [1.33305, 1.34403], "nice": false, "zero": false}},
          "text": {"field": "bid", "type": "quantitative", "format": ".4f"}
        }
      }
    ]
  },
  {
    "width": 629,
    "height": 77,
    "layer": [
      {
        "data": {"name": "sep"},
        "mark": {"type": "rule", "color": "#000000", "strokeWidth": 1, "strokeDash": [1, 2]},
        "encoding": {
          "x": {"field": "i", "type": "quantitative", "scale": {"domain": [-0.53, 188.93], "nice": false, "zero": false},
                "axis": {"values": [0, 8, 16, 24, 32, 40, 48, 56, 64, 72, 80, 88, 96, 104, 112, 120, 128, 136, 144, 152, 160, 168, 176, 184],
                         "grid": true,
                         "gridOpacity": {"condition": {"test": "datum.value % 16 == 8", "value": 1}, "value": 0},
                         "tickOpacity": {"condition": {"test": "datum.value % 16 == 0", "value": 1}, "value": 0},
                         "labelExpr": "datum.value % 16 == 0 ? ['6 Aug 2014','7 Aug 09:00','8 Aug 01:00','8 Aug 17:00','11 Aug 09:00','12 Aug 01:00','12 Aug 17:00','13 Aug 09:00','14 Aug 01:00','14 Aug 17:00','15 Aug 09:00','18 Aug 01:00'][datum.value / 16] : ''",
                         "labelAlign": "left", "labelOffset": -2, "labelOverlap": false, "labelFlush": false, "labelBound": false,
                         "tickSize": 3, "labelPadding": 1, "domain": false, "title": null}}
        }
      },
      {
        "data": {"name": "macd"},
        "mark": {"type": "bar", "orient": "vertical", "size": 1.7, "color": "#c0c0c0"},
        "encoding": {
          "x": {"field": "i", "type": "quantitative", "scale": {"domain": [-0.53, 188.93], "nice": false, "zero": false}},
          "y": {"field": "m", "type": "quantitative", "scale": {"domain": [-0.00138, 0.00157], "nice": false, "zero": false},
                "axis": {"orient": "right", "values": [0.00134, 0, -0.00126], "labels": false, "grid": false, "tickSize": 2, "title": null, "domain": false}},
          "y2": {"datum": 0}
        }
      },
      {
        "data": {"values": [{"z": 0}]},
        "mark": {"type": "rule", "color": "#b8b8b8", "strokeWidth": 1, "strokeDash": [3, 3]},
        "encoding": {
          "y": {"field": "z", "type": "quantitative", "scale": {"domain": [-0.00138, 0.00157], "nice": false, "zero": false}}
        }
      },
      {
        "data": {"name": "sig"},
        "mark": {"type": "line", "color": "#ff0000", "strokeWidth": 1, "strokeDash": [2, 2], "interpolate": "monotone"},
        "encoding": {
          "x": {"field": "i", "type": "quantitative", "scale": {"domain": [-0.53, 188.93], "nice": false, "zero": false}},
          "y": {"field": "s", "type": "quantitative", "scale": {"domain": [-0.00138, 0.00157], "nice": false, "zero": false}}
        }
      },
      {
        "data": {"name": "mlab"},
        "mark": {"type": "text", "fontSize": 7.2, "align": "left", "baseline": "middle", "color": "#000000", "dx": 3},
        "encoding": {
          "x": {"datum": 188.93, "type": "quantitative", "scale": {"domain": [-0.53, 188.93], "nice": false, "zero": false}},
          "y": {"field": "v", "type": "quantitative", "scale": {"domain": [-0.00138, 0.00157], "nice": false, "zero": false}},
          "text": {"field": "t"}
        }
      },
      {
        "data": {"values": [{"t": "MACD(12,26,9) 0.00054 0.00059"}]},
        "mark": {"type": "text", "fontSize": 7.5, "align": "left", "baseline": "middle", "color": "#000000"},
        "encoding": {
          "x": {"datum": 0.67, "type": "quantitative", "scale": {"domain": [-0.53, 188.93], "nice": false, "zero": false}},
          "y": {"datum": 0.00127, "type": "quantitative", "scale": {"domain": [-0.00138, 0.00157], "nice": false, "zero": false}},
          "text": {"field": "t"}
        }
      },
      {
        "data": {"values": [{"t": "IFX Trader, © 2001-2014, MetaQuotes Software Corp."}]},
        "mark": {"type": "text", "fontSize": 7.5, "align": "left", "baseline": "middle", "color": "#000000"},
        "encoding": {
          "x": {"datum": 0.67, "type": "quantitative", "scale": {"domain": [-0.53, 188.93], "nice": false, "zero": false}},
          "y": {"datum": -0.00126, "type": "quantitative", "scale": {"domain": [-0.00138, 0.00157], "nice": false, "zero": false}},
          "text": {"field": "t"}
        }
      },
      {
        "data": {"values": [{"t": "InstaForex"}]},
        "mark": {"type": "point", "shape": "M1,0L0.83,0.131L0.951,0.309L0.748,0.381L0.809,0.588L0.594,0.594L0.588,0.809L0.381,0.748L0.309,0.951L0.131,0.83L0,1L-0.131,0.83L-0.309,0.951L-0.381,0.748L-0.588,0.809L-0.594,0.594L-0.809,0.588L-0.748,0.381L-0.951,0.309L-0.83,0.131L-1,0L-0.83,-0.131L-0.951,-0.309L-0.748,-0.381L-0.809,-0.588L-0.594,-0.594L-0.588,-0.809L-0.381,-0.748L-0.309,-0.951L-0.131,-0.83L0,-1L0.131,-0.83L0.309,-0.951L0.381,-0.748L0.588,-0.809L0.594,-0.594L0.809,-0.588L0.748,-0.381L0.951,-0.309L0.83,-0.131Z", "size": 10816, "filled": true, "fill": "#e8372f", "stroke": "#f5aaa4", "strokeWidth": 3, "opacity": 0.9},
        "encoding": {
          "x": {"datum": 16.9, "type": "quantitative", "scale": {"domain": [-0.53, 188.93], "nice": false, "zero": false}},
          "y": {"datum": 0.00004, "type": "quantitative", "scale": {"domain": [-0.00138, 0.00157], "nice": false, "zero": false}}
        }
      },
      {
        "data": {"values": [{"t": "InstaForex"}]},
        "mark": {"type": "text", "fontSize": 13, "align": "center", "baseline": "middle", "color": "#ffffff"},
        "encoding": {
          "x": {"datum": 16.2, "type": "quantitative", "scale": {"domain": [-0.53, 188.93], "nice": false, "zero": false}},
          "y": {"datum": -0.00023, "type": "quantitative", "scale": {"domain": [-0.00138, 0.00157], "nice": false, "zero": false}},
          "text": {"field": "t"}
        }
      },
      {
        "data": {"values": [{"t": "logo"}]},
        "mark": {"type": "point", "shape": "M-0.12,1L0.12,1L0.12,0.05L0.55,-0.35L0.55,-0.9L0.32,-0.9L0.32,-0.45L0.12,-0.25L0.12,-0.95L-0.12,-0.95L-0.12,-0.25L-0.32,-0.45L-0.32,-0.9L-0.55,-0.9L-0.55,-0.35L-0.12,0.05Z", "size": 324, "filled": true, "fill": "#ffffff", "opacity": 1},
        "encoding": {
          "x": {"datum": 15.3, "type": "quantitative", "scale": {"domain": [-0.53, 188.93], "nice": false, "zero": false}},
          "y": {"datum": 0.00069, "type": "quantitative", "scale": {"domain": [-0.00138, 0.00157], "nice": false, "zero": false}}
        }
      }
    ]
  }
]
}
